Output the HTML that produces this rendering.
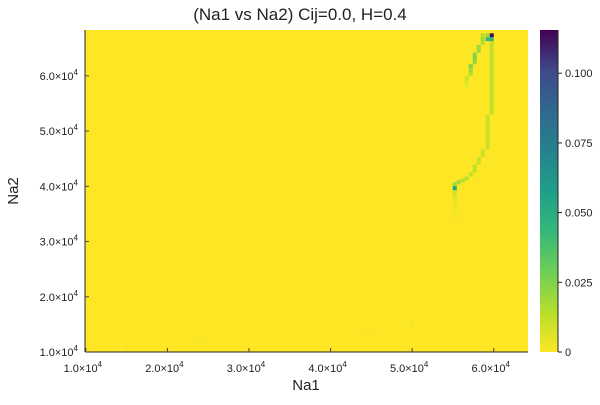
<!DOCTYPE html>
<html><head><meta charset="utf-8"><style>
body{margin:0;background:#fff;}
svg{font-family:"Liberation Sans","DejaVu Sans",sans-serif;}
</style></head><body>
<svg id="c" width="600" height="400" viewBox="0 0 600 400">
<defs><linearGradient id="cb" x1="0" y1="1" x2="0" y2="0">
<stop offset="0" stop-color="#fde725"/><stop offset="0.125" stop-color="#b5de2b"/><stop offset="0.25" stop-color="#6ece58"/><stop offset="0.375" stop-color="#35b779"/><stop offset="0.5" stop-color="#1f9e89"/><stop offset="0.625" stop-color="#26828e"/><stop offset="0.75" stop-color="#31688e"/><stop offset="0.875" stop-color="#3e4989"/><stop offset="1" stop-color="#440154"/>
</linearGradient></defs>
<text x="300" y="20" font-size="17" text-anchor="middle" fill="#222">(Na1 vs Na2) Cij=0.0, H=0.4</text>
<rect x="85" y="30" width="443" height="322" fill="#fde725"/>
<g id="cells"></g>
<line x1="85" y1="352" x2="528" y2="352" stroke="#222" stroke-width="1"/>
<line x1="85" y1="30" x2="85" y2="352" stroke="#222" stroke-width="1"/>
<g id="xt"></g>
<g id="yt"></g>
<text x="306" y="390" font-size="15" text-anchor="middle" fill="#222">Na1</text>
<text x="18" y="191" font-size="15" text-anchor="middle" fill="#222" transform="rotate(-90 18 191)">Na2</text>
<rect x="540" y="30" width="18" height="322" fill="url(#cb)"/>
<line x1="558" y1="30" x2="558" y2="352" stroke="#222"/>
<g id="ct"></g>
</svg>
<script>
const xTicks=[10000,20000,30000,40000,50000,60000];
const yTicks=[10000,20000,30000,40000,50000,60000];
const cTicks=[0,0.025,0.05,0.075,0.1];
const cTickLabels=["0","0.025","0.050","0.075","0.100"];
const cellNa1=[59750,59750,59260,59260,
59750,59750,59750,59750,59750,59750,59750,59750,59750,59750,59750,59750,59750,59750,59750,59750,59750,59750,59750,
59260,59260,59260,59260,59260,59260,59260,59260,59260,
58650,58650,58160,58160,57670,57670,57180,56690,56200,55710,55220,55220,
55220,55220,55220,55220,55220,55220,55220,
58650,58650,58650,58160,58160,57670,57670,57670,57180,57180,57180,56690,56690,56690,
15000,24000,44500,50000];
const cellNa2=[67340,66640,66640,67340,
65940,65240,64540,63840,63140,62440,61740,61040,60340,59640,58940,58240,57540,56840,56140,55440,54740,54040,53340,
52640,51940,51240,50540,49840,49140,48440,47740,47040,
46340,45640,44940,44240,43540,42840,42140,41440,41040,40740,40340,39640,
38940,38240,37540,36840,36140,35440,34740,
67340,66640,65940,65240,64540,63840,63140,62440,61740,61040,60340,59640,58940,58240,
11000,12000,13500,15000];
const cellVal=[0.114,0.045,0.045,0.02,
0.012,0.012,0.012,0.012,0.012,0.012,0.012,0.012,0.012,0.012,0.012,0.012,0.012,0.012,0.012,0.012,0.012,0.012,0.011,
0.01,0.01,0.01,0.01,0.01,0.01,0.01,0.01,0.01,
0.01,0.01,0.01,0.01,0.012,0.012,0.012,0.014,0.015,0.018,0.02,0.055,
0.01,0.007,0.005,0.004,0.003,0.003,0.002,
0.015,0.02,0.015,0.02,0.02,0.025,0.025,0.02,0.025,0.02,0.015,0.01,0.006,0.004,
0.002,0.002,0.002,0.002];
const X0=85,X1=528,Y0=352,Y1=30;
const xmin=9900,xmax=64200,ymin=10000,ymax=68300,vmax=0.1155;
const sx=v=>X0+(v-xmin)/(xmax-xmin)*(X1-X0);
const sy=v=>Y0-(v-ymin)/(ymax-ymin)*(Y0-Y1);
const sc=v=>352-v/vmax*322;
const stops=[[253,231,37],[181,222,43],[110,206,88],[53,183,121],[31,158,137],[38,130,142],[49,104,142],[62,73,137],[68,1,84]];
function col(v){let t=Math.max(0,Math.min(1,v/vmax))*8;let i=Math.min(7,Math.floor(t)),f=t-i;const a=stops[i],b=stops[i+1];return `rgb(${a.map((c,k)=>Math.round(c+(b[k]-c)*f)).join(',')})`;}
const NS="http://www.w3.org/2000/svg";
function el(t,a,p){const e=document.createElementNS(NS,t);for(const k in a)e.setAttribute(k,a[k]);p.appendChild(e);return e;}
const cells=document.getElementById('cells');
const dx=500,dy=720;
for(let i=0;i<cellNa1.length;i++){
 const r=el('rect',{x:sx(cellNa1[i]-dx/2),y:sy(cellNa2[i]+dy/2),width:sx(cellNa1[i]+dx/2)-sx(cellNa1[i]-dx/2),height:sy(cellNa2[i]-dy/2)-sy(cellNa2[i]+dy/2),fill:col(cellVal[i])},cells);
 
 
}
function lab(g,x,y,v,anchor){const t=el('text',{x:x,y:y,'font-size':11,'text-anchor':anchor,fill:'#222'},g);
 t.textContent=(v/10000).toFixed(1)+"×10";const s=document.createElementNS(NS,'tspan');s.setAttribute('dy','-5');s.setAttribute('font-size','8');s.textContent='4';t.appendChild(s);return t;}
const xt=document.getElementById('xt');
xTicks.forEach(v=>{const x=sx(v);const l=el('line',{x1:x,x2:x,y1:352,y2:348,stroke:'#444'},xt);
 
 const t=lab(xt,x-3,372,v,'middle');});
const yt=document.getElementById('yt');
yTicks.forEach(v=>{const y=sy(v);const l=el('line',{x1:85,x2:89,y1:y,y2:y,stroke:'#444'},yt);
 
 const t=lab(yt,78,y+4,v,'end');});
const ct=document.getElementById('ct');
cTicks.forEach((v,i)=>{const y=sc(v);const l=el('line',{x1:558,x2:562,y1:y,y2:y,stroke:'#222'},ct);
 
 const t=el('text',{x:565,y:y+4,'font-size':11,fill:'#222'},ct);t.textContent=cTickLabels[i];
 });
</script>
</body></html>
